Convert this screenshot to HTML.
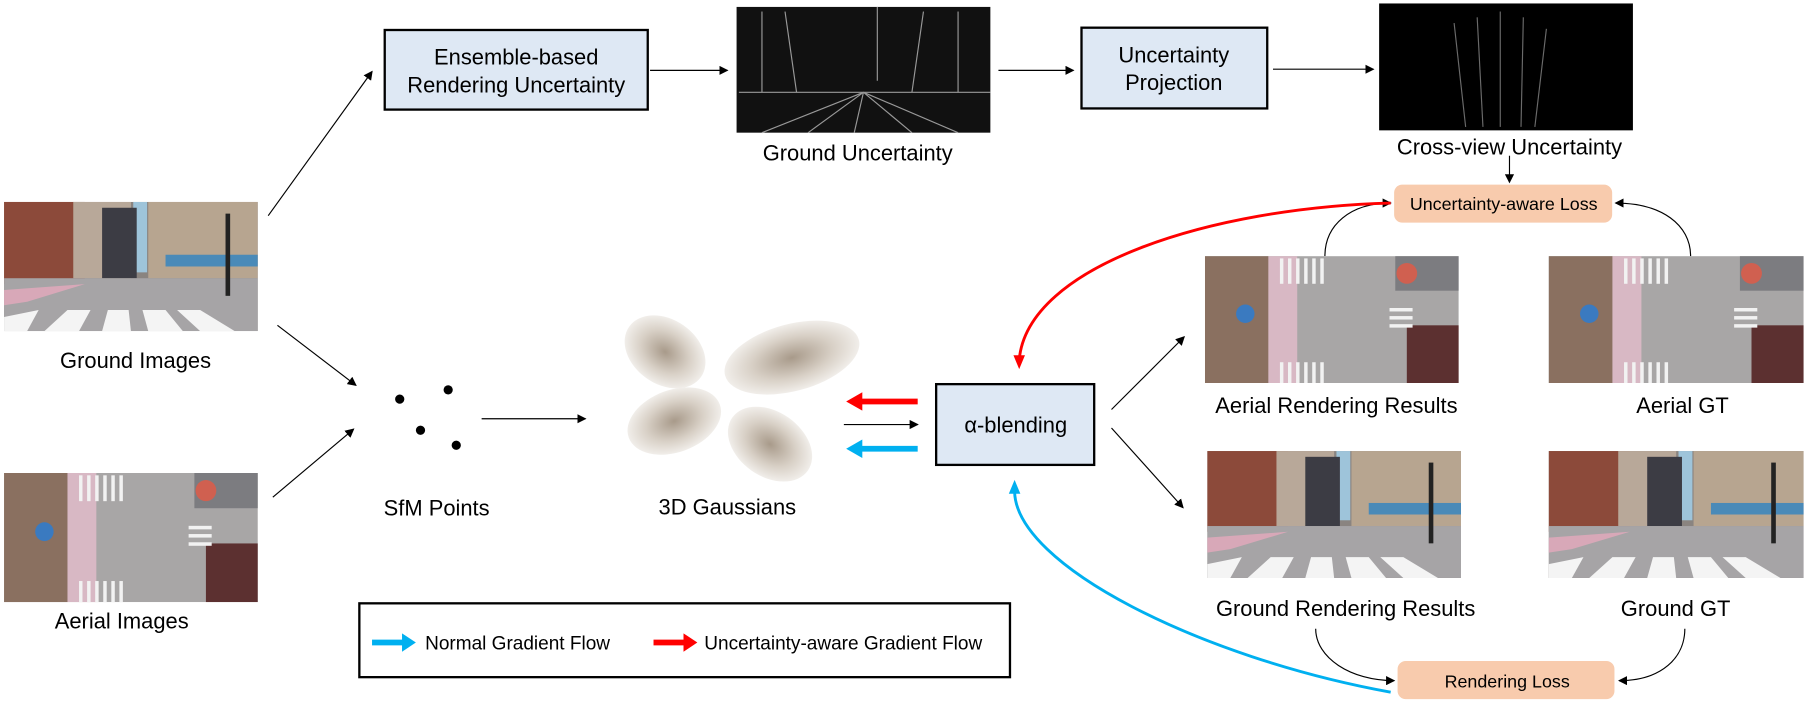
<!DOCTYPE html>
<html><head><meta charset="utf-8"><style>
html,body{margin:0;padding:0;background:#fff;}
svg{display:block;}
text{font-family:"Liberation Sans",Arial,sans-serif;fill:#000;}
</style></head><body>
<svg width="1810" height="706" viewBox="0 0 1568 612" xmlns="http://www.w3.org/2000/svg">
<defs>
<marker id="ah" markerWidth="8" markerHeight="8" refX="7" refY="4" orient="auto" markerUnits="userSpaceOnUse"><path d="M0,0 L8,4 L0,8 z" fill="#000"/></marker>
<radialGradient id="gg" cx="50%" cy="50%" r="50%"><stop offset="0" stop-color="#a89a8a"/><stop offset="0.6" stop-color="#d8d0c6"/><stop offset="1" stop-color="#f1eeea"/></radialGradient>
<symbol id="gv" viewBox="0 0 220 110" preserveAspectRatio="none">
<rect width="220" height="110" fill="#8a8480"/>
<rect x="112" y="0" width="12" height="60" fill="#9ec4da"/>
<rect x="0" y="0" width="70" height="70" fill="#8c4a3a"/>
<rect x="60" y="0" width="50" height="65" fill="#b8a899"/>
<rect x="85" y="5" width="30" height="60" fill="#3c3c44"/>
<rect x="125" y="0" width="95" height="65" fill="#b7a590"/>
<rect x="140" y="45" width="80" height="10" fill="#4a8ab8"/>
<rect x="0" y="65" width="220" height="45" fill="#a6a4a6"/>
<polygon points="0,75 70,70 20,85 0,88" fill="#d8a8b8"/>
<g fill="#f4f4f4"><polygon points="0,98 30,92 20,110 0,110"/><polygon points="35,110 55,92 75,92 65,110"/><polygon points="85,110 90,92 108,92 110,110"/><polygon points="125,110 120,92 140,92 155,110"/><polygon points="170,110 150,92 170,92 200,110"/></g>
<rect x="192" y="10" width="4" height="70" fill="#222"/>
</symbol>
<symbol id="av" viewBox="0 0 220 110" preserveAspectRatio="none">
<rect width="220" height="110" fill="#a8a6a6"/>
<rect x="0" y="0" width="55" height="110" fill="#8a7060"/>
<rect x="55" y="0" width="25" height="110" fill="#d8b8c4"/>
<rect x="165" y="0" width="55" height="30" fill="#7c7c80"/>
<rect x="175" y="60" width="45" height="50" fill="#5c3030"/>
<g fill="#f2f2f2"><rect x="65" y="2" width="3" height="22"/><rect x="72" y="2" width="3" height="22"/><rect x="79" y="2" width="3" height="22"/><rect x="86" y="2" width="3" height="22"/><rect x="93" y="2" width="3" height="22"/><rect x="100" y="2" width="3" height="22"/><rect x="65" y="92" width="3" height="18"/><rect x="72" y="92" width="3" height="18"/><rect x="79" y="92" width="3" height="18"/><rect x="86" y="92" width="3" height="18"/><rect x="93" y="92" width="3" height="18"/><rect x="100" y="92" width="3" height="18"/><rect x="160" y="45" width="20" height="3"/><rect x="160" y="52" width="20" height="3"/><rect x="160" y="59" width="20" height="3"/></g>
<circle cx="175" cy="15" r="9" fill="#d06050"/><circle cx="35" cy="50" r="8" fill="#3a7ac0"/>
</symbol>
</defs>

<use href="#gv" x="3" y="175" width="220" height="112"/>
<text x="117" y="319" font-size="19" text-anchor="middle">Ground Images</text>
<use href="#av" x="3" y="410" width="220" height="112"/>
<text x="105" y="545" font-size="19" text-anchor="middle">Aerial Images</text>

<g stroke="#000" stroke-width="1" marker-end="url(#ah)">
<line x1="232" y1="187" x2="322" y2="62"/>
<line x1="240" y1="282" x2="308" y2="334"/>
<line x1="236" y1="431" x2="306" y2="372"/>
<line x1="563" y1="61" x2="630" y2="61"/>
<line x1="865" y1="61" x2="930" y2="61"/>
<line x1="1103" y1="60" x2="1190" y2="60"/>
<line x1="1308" y1="135" x2="1308" y2="158"/>
<line x1="417" y1="363" x2="507" y2="363"/>
<line x1="731" y1="368" x2="795" y2="368"/>
<line x1="963" y1="355" x2="1026" y2="292"/>
<line x1="963" y1="371" x2="1025" y2="440"/>
</g>
<g stroke="#000" stroke-width="1" fill="none" marker-end="url(#ah)">
<path d="M1148,222 C1148,195 1170,176 1205,176"/>
<path d="M1465,222 C1465,195 1440,176 1400,176"/>
<path d="M1140,545 C1140,570 1170,590 1208,590"/>
<path d="M1460,545 C1460,570 1440,590 1403,590"/>
</g>

<rect x="333" y="26" width="228" height="69" fill="#dee8f4" stroke="#000" stroke-width="2"/>
<text x="447" y="56" font-size="19" text-anchor="middle">Ensemble-based</text>
<text x="447" y="80" font-size="19" text-anchor="middle">Rendering Uncertainty</text>
<rect x="638" y="6" width="220" height="109" fill="#111"/>
<g stroke="#bbb" stroke-width="1" opacity="0.8">
<line x1="640" y1="80" x2="858" y2="80"/><line x1="748" y1="80" x2="660" y2="115"/><line x1="748" y1="80" x2="700" y2="115"/><line x1="748" y1="80" x2="740" y2="115"/><line x1="748" y1="80" x2="790" y2="115"/><line x1="748" y1="80" x2="830" y2="115"/>
<line x1="660" y1="10" x2="660" y2="80"/><line x1="680" y1="10" x2="690" y2="80"/><line x1="800" y1="10" x2="790" y2="80"/><line x1="830" y1="10" x2="830" y2="80"/><line x1="760" y1="6" x2="760" y2="70"/>
</g>
<text x="743" y="139" font-size="19" text-anchor="middle">Ground Uncertainty</text>
<rect x="937" y="24" width="161" height="70" fill="#dee8f4" stroke="#000" stroke-width="2"/>
<text x="1017" y="54" font-size="19" text-anchor="middle">Uncertainty</text>
<text x="1017" y="78" font-size="19" text-anchor="middle">Projection</text>
<rect x="1195" y="3" width="220" height="110" fill="#000"/>
<g stroke="#999" stroke-width="1" opacity="0.7">
<line x1="1260" y1="20" x2="1270" y2="110"/><line x1="1280" y1="15" x2="1285" y2="110"/><line x1="1300" y1="10" x2="1300" y2="110"/><line x1="1320" y1="15" x2="1318" y2="110"/><line x1="1340" y1="25" x2="1330" y2="110"/>
</g>
<text x="1308" y="134" font-size="19" text-anchor="middle">Cross-view Uncertainty</text>
<rect x="1208" y="160" width="189" height="33" rx="7" fill="#f8cbad"/>
<text x="1303" y="182" font-size="15.5" text-anchor="middle">Uncertainty-aware Loss</text>

<circle cx="346" cy="346" r="4"/><circle cx="388" cy="338" r="4"/><circle cx="364" cy="373" r="4"/><circle cx="395" cy="386" r="4"/>
<text x="378" y="447" font-size="19" text-anchor="middle">SfM Points</text>
<ellipse cx="576" cy="305" rx="38" ry="28" transform="rotate(35 576 305)" fill="url(#gg)"/>
<ellipse cx="686" cy="310" rx="60" ry="29" transform="rotate(-15 686 310)" fill="url(#gg)"/>
<ellipse cx="584" cy="365" rx="42" ry="27" transform="rotate(-20 584 365)" fill="url(#gg)"/>
<ellipse cx="667" cy="385" rx="40" ry="28" transform="rotate(35 667 385)" fill="url(#gg)"/>
<text x="630" y="446" font-size="19" text-anchor="middle">3D Gaussians</text>

<line x1="795" y1="348" x2="745" y2="348" stroke="#f00" stroke-width="5"/><path d="M733,348 L747,340 L747,356 z" fill="#f00"/>
<line x1="795" y1="389" x2="745" y2="389" stroke="#00b0f0" stroke-width="5"/><path d="M733,389 L747,381 L747,397 z" fill="#00b0f0"/>

<rect x="811" y="333" width="137" height="70" fill="#dee8f4" stroke="#000" stroke-width="2"/>
<text x="880" y="375" font-size="19" text-anchor="middle">α-blending</text>

<path d="M1205,176 C1050,180 890,230 883,312" fill="none" stroke="#f00" stroke-width="2.5"/>
<path d="M883,320 L878,308 L888,308 z" fill="#f00"/>
<path d="M1205,600 C1040,570 880,490 879,426" fill="none" stroke="#00b0f0" stroke-width="2.5"/>
<path d="M879,416 L874,428 L884,428 z" fill="#00b0f0"/>

<use href="#av" x="1044" y="222" width="220" height="110"/>
<use href="#av" x="1342" y="222" width="221" height="110"/>
<text x="1158" y="358" font-size="19" text-anchor="middle">Aerial Rendering Results</text>
<text x="1458" y="358" font-size="19" text-anchor="middle">Aerial GT</text>
<use href="#gv" x="1046" y="391" width="220" height="110"/>
<use href="#gv" x="1342" y="391" width="221" height="110"/>
<text x="1166" y="534" font-size="19" text-anchor="middle">Ground Rendering Results</text>
<text x="1452" y="534" font-size="19" text-anchor="middle">Ground GT</text>
<rect x="1211" y="573" width="188" height="33" rx="7" fill="#f8cbad"/>
<text x="1306" y="596" font-size="15.5" text-anchor="middle">Rendering Loss</text>

<rect x="311" y="523" width="564" height="64" fill="#fff" stroke="#000" stroke-width="2"/>
<line x1="322" y1="557" x2="350" y2="557" stroke="#00b0f0" stroke-width="5"/><path d="M360,557 L348,549 L348,565 z" fill="#00b0f0"/>
<text x="368" y="563" font-size="16.5">Normal Gradient Flow</text>
<line x1="566" y1="557" x2="594" y2="557" stroke="#f00" stroke-width="5"/><path d="M604,557 L592,549 L592,565 z" fill="#f00"/>
<text x="610" y="563" font-size="16.5">Uncertainty-aware Gradient Flow</text>
</svg>
</body></html>
